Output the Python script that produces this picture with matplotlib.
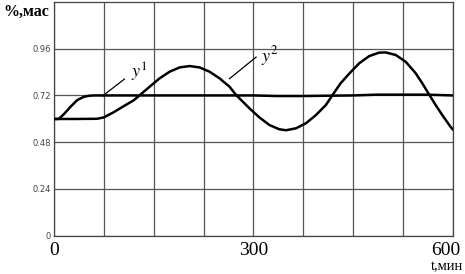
import numpy as np
import matplotlib.pyplot as plt
import matplotlib.transforms as mtransforms

# time, min
t2 = [0, 30, 65, 75, 90, 105, 120, 132, 144, 159, 174, 189, 204, 219, 234, 249,
      264, 274, 284, 294, 309, 324, 339, 349, 364, 379, 394, 409, 419, 431, 444,
      459, 474, 489, 499, 514, 529, 544, 554, 564, 574, 584, 597, 600]
# y2 concentration, % mass
y2 = [0.599, 0.599, 0.600, 0.607, 0.634, 0.665, 0.695, 0.73, 0.765, 0.808, 0.842,
      0.864, 0.871, 0.864, 0.842, 0.808, 0.765, 0.722, 0.688, 0.654, 0.607, 0.568,
      0.546, 0.541, 0.551, 0.577, 0.619, 0.671, 0.722, 0.782, 0.832, 0.885, 0.922,
      0.94, 0.941, 0.928, 0.893, 0.834, 0.782, 0.726, 0.671, 0.619, 0.556, 0.545]

t1 = [0, 7, 15, 25, 35, 45, 52, 60, 150, 300, 334, 374, 450, 486, 561, 600]
y1 = [0.599, 0.599, 0.624, 0.662, 0.696, 0.713, 0.718, 0.72, 0.72, 0.72, 0.717,
      0.717, 0.72, 0.724, 0.724, 0.72]

yticks = [0, 0.24, 0.48, 0.72, 0.96]
xgrid = [0, 75, 150, 225, 300, 375, 450, 525, 600]
xlabels = [0, 300, 600]
xlabel_shift = [0, 0, -7]  # px

fig = plt.figure(figsize=(4.65, 2.74), dpi=100)
ax = fig.add_axes([0.116, 0.1405, 0.858, 0.852])

ax.plot(t2, y2, color='black', lw=1.8, zorder=3, solid_joinstyle='round')
ax.plot(t1, y1, color='black', lw=1.8, zorder=3, solid_joinstyle='round')

ax.set_xlim(0, 600)
ax.set_ylim(0, 1.2)
ax.set_xticks(xgrid)
ax.set_xticklabels([])
ax.set_yticks(yticks)
ax.set_yticklabels(['0', '0.24', '0.48', '0.72', '0.96'], fontsize=6, color='#444444')
ax.tick_params(length=0, pad=2)
ax.grid(True, color='#555555', lw=0.9)
for s in ax.spines.values():
    s.set_color('#444444')
    s.set_linewidth(0.9)

# x labels only at 0, 300, 600
base = ax.get_xaxis_transform()
for x, dx in zip(xlabels, xlabel_shift):
    tr = base + mtransforms.ScaledTranslation(dx / 100, -6 / 100, fig.dpi_scale_trans)
    ax.text(x, 0, str(x), transform=tr, ha='center', va='top',
            fontsize=14, family='Liberation Serif')

# curve labels with leader lines
ax.plot([73, 106], [0.717, 0.804], color='black', lw=0.9, zorder=3)
ax.text(116, 0.84, r'$y^1$', fontsize=13, va='center', math_fontfamily='stix')
ax.plot([264, 304], [0.806, 0.917], color='black', lw=0.9, zorder=3)
ax.text(311, 0.925, r'$y^2$', fontsize=13, va='center', math_fontfamily='stix')

fig.text(3 / 465, 1 - 12 / 274, '%,мас', fontsize=11.5, fontweight='bold',
         family='Liberation Serif', va='center', ha='left')
fig.text(463 / 465, 1 - 270 / 274, 't,мин', fontsize=10.5, family='Liberation Serif',
         va='baseline', ha='right')

fig.savefig('out.png', dpi=100)
